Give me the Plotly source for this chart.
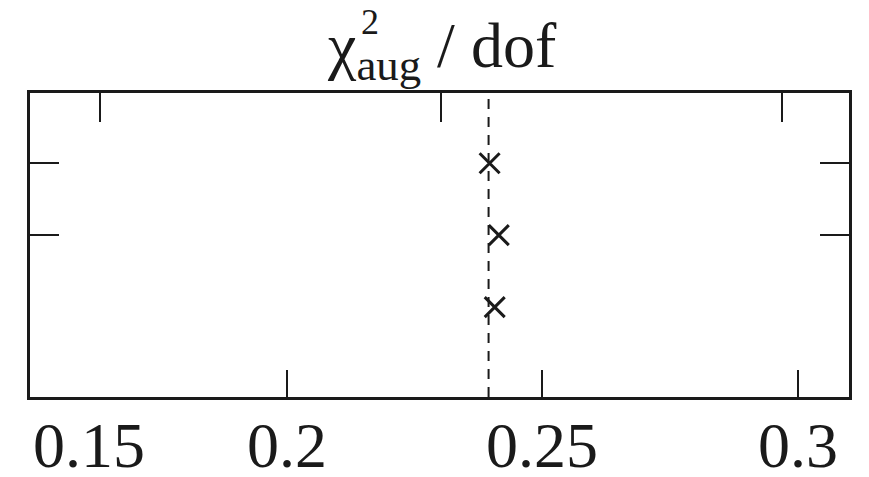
import plotly.graph_objects as go

# Fitted values of chi^2_aug / dof, one per row (top to bottom)
chi2_values = [0.2397, 0.2415, 0.2407]
row_positions = [3, 2, 1]
ref_value = 0.2395          # reference value drawn as dashed line

# Axis ticks and labels
x_tick_vals = [0.2, 0.25, 0.3]
x_label_vals = [0.15, 0.2, 0.25, 0.3]
x_label_text = ["0.15", "0.2", "0.25", "0.3"]
top_tick_vals = [0.15, 0.2, 0.25]
y_tick_vals = [2, 3]

FONT = "Liberation Serif, Times New Roman, serif"
INK = "#1a1a1a"

fig = go.Figure()

fig.add_trace(go.Scatter(
    x=chi2_values, y=row_positions, mode="markers",
    marker=dict(symbol="x-thin", size=20, line=dict(width=3, color=INK), color=INK),
    showlegend=False, hoverinfo="x",
))

# empty trace so the top tick axis is rendered
fig.add_trace(go.Scatter(x=[None], y=[None], xaxis="x2", showlegend=False,
                         hoverinfo="skip"))

fig.add_vline(x=ref_value, line=dict(color=INK, width=2, dash="10px,8px"))

# x labels sit close under the frame; the first one starts at the left edge
label_y = (397 - 445) / 304
annotations = []
for v, t in zip(x_label_vals, x_label_text):
    annotations.append(dict(
        text=t, x=v, xref="x", xanchor="left" if v == x_label_vals[0] else "center",
        y=label_y, yref="paper", yanchor="middle", showarrow=False,
        font=dict(family=FONT, size=64, color=INK)))

annotations += [
    dict(text="χ<sub>aug</sub> / dof", x=(442 - 30) / 819, xref="paper",
         y=(397 - 50) / 304, yref="paper", xanchor="center", yanchor="middle",
         showarrow=False, font=dict(family=FONT, size=64, color=INK)),
    dict(text="2", x=(370 - 30) / 819, xref="paper",
         y=(397 - 22) / 304, yref="paper", xanchor="center", yanchor="middle",
         showarrow=False, font=dict(family=FONT, size=36, color=INK)),
]

fig.update_layout(
    width=869, height=477,
    margin=dict(l=30, r=20, t=93, b=80),
    paper_bgcolor="white", plot_bgcolor="white",
    font=dict(family=FONT, size=64, color=INK),
    xaxis=dict(
        range=[0.1498, 0.3100], tickvals=x_tick_vals, showticklabels=False,
        ticks="inside", ticklen=27, tickwidth=2, tickcolor=INK,
        showline=True, linewidth=2.5, linecolor=INK, mirror=True,
        showgrid=False, zeroline=False, automargin=False,
    ),
    xaxis2=dict(
        overlaying="x", side="top", range=[0.13974, 0.25983],
        tickvals=top_tick_vals, showticklabels=False,
        ticks="inside", ticklen=29, tickwidth=2, tickcolor=INK,
        showline=False, showgrid=False, zeroline=False, automargin=False,
    ),
    yaxis=dict(
        range=[-0.25, 3.976], tickvals=y_tick_vals, showticklabels=False,
        ticks="inside", ticklen=29, tickwidth=2, tickcolor=INK,
        showline=True, linewidth=2.5, linecolor=INK, mirror="ticks",
        showgrid=False, zeroline=False, automargin=False,
    ),
    annotations=annotations,
)

fig.write_html("out.html")
